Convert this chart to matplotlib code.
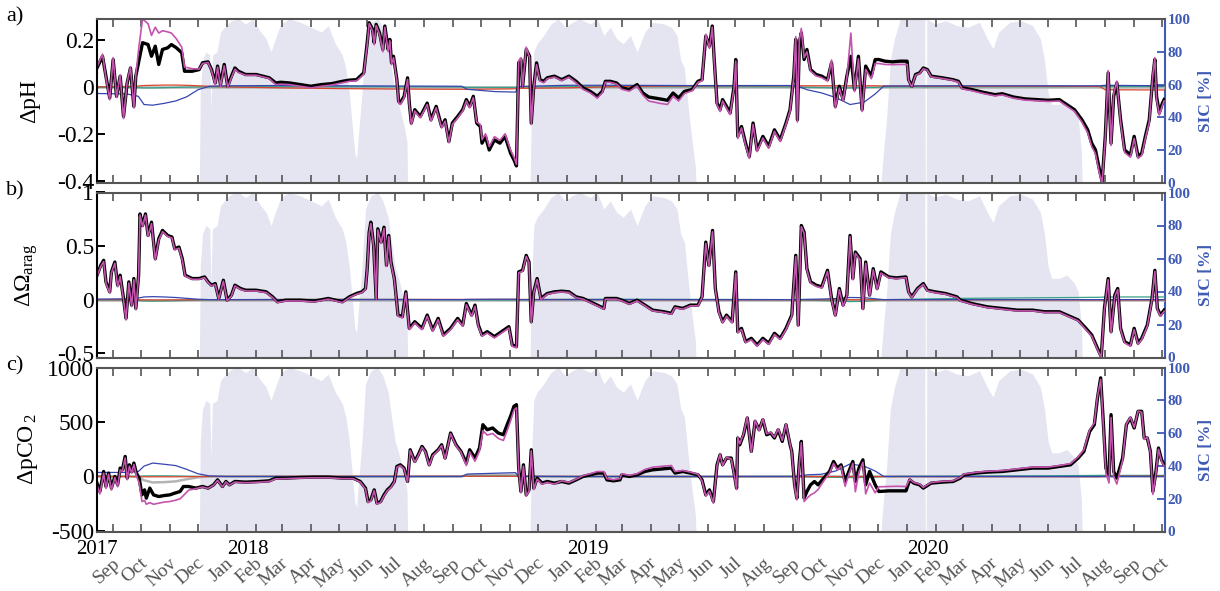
import datetime as dt
import numpy as np
import matplotlib
matplotlib.use("Agg")
import matplotlib.pyplot as plt
import matplotlib.dates as mdates
import matplotlib.transforms as mtransforms

plt.rcParams['font.family'] = ['Liberation Serif', 'DejaVu Serif']
plt.rcParams['mathtext.fontset'] = 'custom'
plt.rcParams['mathtext.rm'] = 'Liberation Serif'
plt.rcParams['mathtext.it'] = 'Liberation Serif:italic'

# time axis: months after 1 Sep 2017 (fractional)
t_ph = [-0.56, -0.37, -0.25, -0.12, 0.00, 0.12, 0.25, 0.37, 0.50, 0.62,
        0.74, 0.81, 0.93, 1.05, 1.24, 1.36, 1.49, 1.61, 1.74, 1.92,
        2.05, 2.23, 2.42, 2.52, 2.79, 3.04, 3.16, 3.35, 3.47, 3.60,
        3.68, 3.78, 3.91, 4.03, 4.16, 4.28, 4.40, 4.65, 5.02, 5.27,
        5.52, 5.77, 5.96, 6.27, 6.64, 7.01, 7.38, 7.75, 8.13, 8.37,
        8.62, 8.75, 8.87, 8.99, 9.06, 9.18, 9.24, 9.31, 9.43, 9.55,
        9.62, 9.74, 9.80, 9.86, 9.93, 10.05, 10.11, 10.17, 10.30, 10.42,
        10.48, 10.55, 10.67, 10.86, 11.10, 11.23, 11.41, 11.60, 11.72, 11.85,
        11.97, 12.16, 12.34, 12.47, 12.59, 12.72, 12.84, 12.97, 13.03, 13.15,
        13.28, 13.46, 13.65, 13.83, 14.02, 14.14, 14.23, 14.31, 14.39, 14.45,
        14.58, 14.70, 14.76, 14.85, 14.95, 15.07, 15.20, 15.32, 15.57, 15.82,
        16.07, 16.32, 16.56, 16.81, 17.06, 17.25, 17.37, 17.56, 17.80, 18.00,
        18.26, 18.53, 18.73, 18.93, 19.33, 19.60, 19.80, 20.00, 20.20, 20.47,
        20.67, 20.81, 20.94, 21.07, 21.17, 21.24, 21.34, 21.45, 21.54, 21.68,
        21.81, 21.95, 22.01, 22.08, 22.21, 22.35, 22.48, 22.61, 22.75, 22.95,
        23.15, 23.35, 23.55, 23.75, 23.89, 24.02, 24.09, 24.15, 24.22, 24.29,
        24.39, 24.49, 24.62, 24.82, 25.02, 25.22, 25.36, 25.49, 25.63, 25.76,
        25.89, 26.03, 26.16, 26.30, 26.43, 26.56, 26.76, 26.90, 27.03, 27.24,
        27.50, 27.77, 28.01, 28.06, 28.17, 28.30, 28.44, 28.57, 28.71, 28.84,
        29.24, 29.64, 29.84, 29.98, 30.31, 30.71, 31.12, 31.38, 31.78, 32.19,
        32.59, 32.99, 33.39, 33.66, 33.93, 34.19, 34.39, 34.53, 34.66, 34.80,
        34.89, 35.00, 35.10, 35.20, 35.29, 35.40, 35.53, 35.67, 35.87, 36.00,
        36.14, 36.27, 36.40, 36.54, 36.67, 36.74, 36.80, 36.90, 37.01, 37.07]

ph_total = [0.081, 0.131, 0.046, -0.047, 0.117, -0.040, 0.046, -0.126, 0.017, 0.081,
            -0.083, 0.046, 0.117, 0.189, 0.181, 0.131, 0.174, 0.096, 0.160, 0.167,
            0.181, 0.167, 0.146, 0.067, 0.067, 0.074, 0.103, 0.107, 0.074, 0.017,
            0.089, 0.010, 0.096, 0.003, 0.046, 0.081, 0.067, 0.053, 0.053, 0.046,
            0.039, 0.017, 0.020, 0.017, 0.010, 0.003, 0.010, 0.014, 0.024, 0.029,
            0.031, 0.046, 0.060, 0.189, 0.274, 0.246, 0.189, 0.267, 0.231, 0.160,
            0.260, 0.160, 0.203, 0.103, 0.131, 0.031, -0.061, -0.069, -0.040, 0.039,
            -0.069, -0.154, -0.097, -0.126, -0.069, -0.140, -0.083, -0.169, -0.140, -0.233,
            -0.154, -0.126, -0.097, -0.054, -0.083, -0.040, -0.154, -0.169, -0.240, -0.211,
            -0.269, -0.226, -0.240, -0.211, -0.283, -0.311, -0.337, 0.103, 0.117, 0.003,
            0.160, 0.131, -0.154, 0.003, 0.103, 0.031, 0.024, 0.039, 0.046, 0.031,
            0.046, 0.024, -0.004, -0.019, -0.040, -0.019, 0.024, 0.024, 0.017, -0.004,
            -0.011, 0.010, -0.026, -0.043, -0.051, -0.057, -0.026, -0.047, -0.019, -0.011,
            0.024, 0.031, 0.217, 0.174, 0.260, 0.117, -0.069, -0.097, -0.054, -0.083,
            -0.111, 0.003, 0.117, -0.211, -0.169, -0.240, -0.297, -0.154, -0.269, -0.211,
            -0.254, -0.183, -0.226, -0.154, -0.097, 0.046, 0.203, -0.140, 0.189, 0.231,
            0.117, 0.160, 0.074, 0.053, 0.046, 0.031, 0.103, -0.083, 0.003, -0.054,
            0.046, 0.131, -0.011, 0.131, -0.097, 0.089, 0.046, 0.117, 0.117, 0.110,
            0.107, 0.110, 0.110, 0.031, 0.003, 0.053, 0.060, 0.081, 0.074, 0.046,
            0.039, 0.031, 0.024, -0.004, -0.011, -0.023, -0.033, -0.029, -0.043, -0.051,
            -0.054, -0.057, -0.054, -0.076, -0.097, -0.140, -0.183, -0.240, -0.269, -0.354,
            -0.404, -0.211, 0.060, -0.240, -0.040, 0.017, -0.140, -0.269, -0.290, -0.211,
            -0.297, -0.283, -0.211, -0.140, 0.046, 0.117, -0.040, -0.111, -0.069, -0.054]

ph_dic = [0.085, 0.140, 0.040, -0.055, 0.125, -0.045, 0.050, -0.135, 0.020, 0.085,
          -0.090, 0.050, 0.180, 0.290, 0.270, 0.220, 0.255, 0.230, 0.240, 0.235,
          0.230, 0.205, 0.170, 0.085, 0.078, 0.076, 0.100, 0.104, 0.070, 0.010,
          0.085, 0.003, 0.090, -0.003, 0.040, 0.076, 0.062, 0.050, 0.050, 0.043,
          0.036, 0.010, 0.012, 0.010, 0.003, -0.004, 0.003, 0.008, 0.018, 0.024,
          0.026, 0.040, 0.055, 0.180, 0.270, 0.240, 0.180, 0.262, 0.225, 0.150,
          0.255, 0.150, 0.198, 0.095, 0.125, 0.025, -0.068, -0.075, -0.046, 0.032,
          -0.075, -0.160, -0.103, -0.132, -0.075, -0.146, -0.089, -0.175, -0.146, -0.238,
          -0.160, -0.132, -0.103, -0.060, -0.089, -0.046, -0.150, -0.160, -0.225, -0.200,
          -0.255, -0.212, -0.228, -0.200, -0.270, -0.300, -0.330, 0.110, 0.125, 0.000,
          0.170, 0.125, -0.160, -0.005, 0.095, 0.025, 0.018, 0.035, 0.042, 0.027,
          0.042, 0.018, -0.010, -0.025, -0.048, -0.025, 0.020, 0.020, 0.012, -0.010,
          -0.018, 0.004, -0.035, -0.060, -0.070, -0.075, -0.040, -0.060, -0.028, -0.016,
          0.020, 0.026, 0.225, 0.165, 0.255, 0.110, -0.075, -0.105, -0.060, -0.090,
          -0.118, -0.004, 0.110, -0.220, -0.175, -0.248, -0.305, -0.160, -0.276, -0.218,
          -0.262, -0.190, -0.233, -0.160, -0.103, 0.040, 0.215, -0.150, 0.200, 0.250,
          0.125, 0.150, 0.068, 0.047, 0.040, 0.025, 0.115, -0.090, -0.005, -0.060,
          0.040, 0.230, -0.020, 0.120, -0.105, 0.075, 0.035, 0.100, 0.100, 0.096,
          0.095, 0.096, 0.096, 0.028, 0.000, 0.050, 0.057, 0.078, 0.071, 0.043,
          0.036, 0.028, 0.020, -0.008, -0.016, -0.028, -0.038, -0.034, -0.048, -0.056,
          -0.059, -0.062, -0.060, -0.082, -0.104, -0.150, -0.195, -0.255, -0.285, -0.370,
          -0.410, -0.220, 0.070, -0.250, -0.030, 0.025, -0.150, -0.280, -0.300, -0.220,
          -0.305, -0.292, -0.220, -0.150, 0.055, 0.125, -0.050, -0.120, -0.078, -0.060]

t_om = [-0.56, -0.43, -0.33, -0.25, -0.12, -0.06, 0.06, 0.16, 0.25, 0.37,
        0.46, 0.56, 0.66, 0.74, 0.81, 0.91, 0.96, 1.05, 1.15, 1.24,
        1.36, 1.49, 1.61, 1.74, 1.92, 2.07, 2.17, 2.32, 2.44, 2.54,
        2.79, 3.04, 3.23, 3.35, 3.47, 3.60, 3.72, 3.88, 4.01, 4.16,
        4.28, 4.47, 4.65, 5.02, 5.40, 5.65, 5.83, 6.14, 6.64, 7.13,
        7.63, 8.13, 8.37, 8.62, 8.81, 8.93, 8.99, 9.06, 9.12, 9.22,
        9.31, 9.37, 9.49, 9.59, 9.68, 9.76, 9.84, 9.96, 10.09, 10.24,
        10.36, 10.48, 10.67, 10.92, 11.10, 11.29, 11.48, 11.66, 11.91, 12.16,
        12.34, 12.47, 12.66, 12.78, 12.90, 13.03, 13.21, 13.46, 13.71, 13.96,
        14.08, 14.23, 14.31, 14.45, 14.58, 14.68, 14.76, 14.85, 14.97, 15.10,
        15.32, 15.57, 15.82, 16.07, 16.32, 16.56, 16.81, 17.06, 17.31, 17.37,
        17.56, 17.80, 18.00, 18.26, 18.53, 18.80, 19.07, 19.47, 19.74, 19.87,
        20.14, 20.41, 20.67, 20.81, 20.94, 21.05, 21.18, 21.28, 21.41, 21.54,
        21.68, 21.88, 22.01, 22.08, 22.21, 22.35, 22.55, 22.75, 22.95, 23.15,
        23.35, 23.55, 23.75, 23.95, 24.09, 24.18, 24.29, 24.39, 24.49, 24.62,
        24.82, 25.02, 25.22, 25.36, 25.49, 25.63, 25.76, 25.89, 26.00, 26.10,
        26.19, 26.36, 26.46, 26.56, 26.70, 26.83, 26.97, 27.10, 27.37, 27.63,
        27.97, 28.06, 28.17, 28.37, 28.57, 28.71, 28.97, 29.37, 29.78, 29.91,
        30.31, 30.85, 31.38, 31.92, 32.45, 32.86, 33.39, 33.79, 34.06, 34.33,
        34.53, 34.73, 34.86, 34.97, 35.10, 35.20, 35.33, 35.43, 35.53, 35.67,
        35.87, 36.00, 36.14, 36.27, 36.47, 36.64, 36.74, 36.83, 36.94, 37.07]

om_total = [0.228, 0.320, 0.367, 0.166, 0.073, 0.259, 0.351, 0.135, 0.228, 0.011,
            -0.175, 0.166, -0.051, 0.197, -0.082, 0.228, 0.800, 0.692, 0.800, 0.599,
            0.723, 0.382, 0.568, 0.646, 0.599, 0.584, 0.475, 0.491, 0.382, 0.228,
            0.197, 0.197, 0.212, 0.166, 0.135, 0.150, 0.011, 0.181, -0.005, 0.042,
            0.135, 0.104, 0.088, 0.088, 0.073, 0.026, -0.020, -0.005, -0.005, -0.014,
            0.011, -0.020, 0.026, 0.057, 0.073, 0.104, 0.289, 0.630, 0.723, 0.506,
            0.011, 0.661, 0.537, 0.676, 0.320, 0.599, 0.351, 0.197, -0.144, -0.159,
            0.073, -0.268, -0.206, -0.268, -0.144, -0.283, -0.175, -0.330, -0.268, -0.175,
            -0.237, -0.036, -0.144, -0.051, -0.237, -0.330, -0.299, -0.345, -0.299, -0.252,
            -0.423, -0.438, 0.259, 0.274, 0.413, 0.351, -0.206, 0.073, 0.197, 0.011,
            0.057, 0.073, 0.079, 0.073, 0.026, 0.011, -0.020, -0.051, -0.082, 0.011,
            0.011, 0.011, -0.005, -0.036, -0.005, -0.051, -0.098, -0.113, -0.128, -0.067,
            -0.082, -0.051, -0.051, 0.026, 0.537, 0.320, 0.646, 0.104, -0.113, -0.206,
            -0.144, -0.206, 0.259, -0.299, -0.268, -0.392, -0.361, -0.423, -0.361, -0.407,
            -0.314, -0.361, -0.268, -0.144, 0.413, -0.237, 0.692, 0.630, 0.289, 0.166,
            0.135, 0.119, 0.274, 0.011, -0.144, 0.104, -0.051, 0.042, 0.599, 0.197,
            0.444, 0.382, -0.082, 0.351, 0.042, 0.289, 0.104, 0.259, 0.212, 0.203,
            0.212, 0.073, 0.026, 0.104, 0.150, 0.088, 0.073, 0.057, 0.026, -0.005,
            -0.036, -0.067, -0.082, -0.098, -0.098, -0.113, -0.113, -0.159, -0.190, -0.268,
            -0.330, -0.454, -0.531, -0.082, 0.197, -0.299, 0.042, 0.104, -0.268, -0.392,
            -0.423, -0.268, -0.407, -0.361, -0.237, 0.011, 0.274, -0.082, -0.144, -0.098]

om_dic = [0.220, 0.310, 0.355, 0.155, 0.060, 0.250, 0.340, 0.120, 0.215, 0.000,
          -0.190, 0.155, -0.065, 0.185, -0.095, 0.215, 0.790, 0.680, 0.790, 0.590,
          0.710, 0.370, 0.555, 0.635, 0.590, 0.575, 0.465, 0.480, 0.370, 0.220,
          0.190, 0.190, 0.205, 0.160, 0.128, 0.142, 0.004, 0.172, -0.012, 0.035,
          0.128, 0.097, 0.081, 0.081, 0.066, 0.019, -0.027, -0.012, -0.012, -0.021,
          0.004, -0.027, 0.019, 0.050, 0.066, 0.097, 0.280, 0.620, 0.712, 0.495,
          0.000, 0.650, 0.525, 0.665, 0.310, 0.588, 0.340, 0.186, -0.155, -0.170,
          0.062, -0.280, -0.218, -0.280, -0.155, -0.295, -0.187, -0.342, -0.280, -0.187,
          -0.249, -0.048, -0.156, -0.063, -0.249, -0.342, -0.311, -0.357, -0.311, -0.264,
          -0.435, -0.450, 0.250, 0.265, 0.404, 0.342, -0.218, 0.062, 0.186, 0.000,
          0.050, 0.066, 0.072, 0.066, 0.019, 0.004, -0.027, -0.058, -0.089, 0.004,
          0.004, 0.004, -0.012, -0.043, -0.012, -0.058, -0.105, -0.120, -0.135, -0.074,
          -0.089, -0.058, -0.058, 0.019, 0.525, 0.310, 0.635, 0.094, -0.124, -0.217,
          -0.155, -0.217, 0.248, -0.310, -0.279, -0.403, -0.372, -0.434, -0.372, -0.418,
          -0.325, -0.372, -0.279, -0.155, 0.402, -0.248, 0.681, 0.619, 0.278, 0.155,
          0.124, 0.108, 0.263, 0.000, -0.155, 0.093, -0.062, 0.031, 0.588, 0.186,
          0.433, 0.371, -0.093, 0.340, 0.031, 0.278, 0.093, 0.248, 0.205, 0.196,
          0.205, 0.066, 0.019, 0.097, 0.143, 0.081, 0.066, 0.050, 0.019, -0.012,
          -0.043, -0.074, -0.089, -0.105, -0.105, -0.120, -0.120, -0.166, -0.197, -0.279,
          -0.341, -0.465, -0.540, -0.093, 0.186, -0.310, 0.031, 0.093, -0.279, -0.403,
          -0.434, -0.279, -0.418, -0.372, -0.248, 0.000, 0.263, -0.093, -0.155, -0.109]

t_co2 = [-0.56, -0.46, -0.33, -0.25, -0.16, -0.06, 0.06, 0.16, 0.25, 0.33,
         0.43, 0.50, 0.58, 0.66, 0.74, 0.83, 0.93, 1.03, 1.12, 1.18,
         1.30, 1.43, 1.61, 1.80, 1.99, 2.17, 2.36, 2.48, 2.67, 2.92,
         3.16, 3.35, 3.54, 3.68, 3.85, 3.97, 4.09, 4.28, 4.65, 5.15,
         5.52, 5.77, 6.14, 6.64, 7.13, 7.63, 8.13, 8.50, 8.75, 8.93,
         9.02, 9.12, 9.24, 9.34, 9.47, 9.59, 9.71, 9.84, 9.96, 10.05,
         10.17, 10.30, 10.42, 10.51, 10.67, 10.79, 10.92, 11.04, 11.17, 11.29,
         11.48, 11.60, 11.72, 11.91, 12.10, 12.28, 12.47, 12.59, 12.78, 12.94,
         13.06, 13.21, 13.40, 13.59, 13.77, 13.90, 14.02, 14.14, 14.23, 14.31,
         14.39, 14.48, 14.58, 14.68, 14.76, 14.85, 14.97, 15.14, 15.32, 15.57,
         15.82, 16.07, 16.32, 16.56, 16.81, 17.06, 17.31, 17.43, 17.68, 17.93,
         18.00, 18.26, 18.53, 18.80, 19.07, 19.47, 19.74, 19.87, 20.14, 20.41,
         20.67, 20.81, 20.94, 21.07, 21.21, 21.34, 21.45, 21.54, 21.68, 21.85,
         21.95, 22.04, 22.08, 22.15, 22.28, 22.41, 22.55, 22.68, 22.82, 22.95,
         23.08, 23.22, 23.35, 23.48, 23.62, 23.75, 23.89, 23.95, 24.05, 24.13,
         24.22, 24.29, 24.39, 24.49, 24.62, 24.76, 24.89, 25.09, 25.29, 25.43,
         25.56, 25.69, 25.83, 25.96, 26.10, 26.19, 26.32, 26.46, 26.56, 26.70,
         26.90, 27.03, 27.37, 27.63, 27.97, 28.10, 28.24, 28.44, 28.57, 28.84,
         29.24, 29.64, 29.91, 30.04, 30.45, 30.85, 31.38, 31.92, 32.45, 32.99,
         33.39, 33.79, 34.06, 34.26, 34.46, 34.62, 34.73, 34.84, 34.93, 35.02,
         35.13, 35.20, 35.29, 35.40, 35.60, 35.73, 35.87, 36.00, 36.14, 36.27,
         36.36, 36.47, 36.58, 36.67, 36.78, 36.87, 36.98, 37.07]

co2_total = [-61, -138, 46, -92, 31, -107, 0, -77, 77, 61,
             184, -15, 107, 46, 123, 31, -15, -169, -123, -199,
             -107, -169, -184, -175, -169, -153, -138, -92, -92, -107,
             -92, -107, -77, -31, -92, -46, -77, -46, -52, -46,
             -40, -15, -15, -9, -6, -6, -15, -15, -46, -107,
             -230, -215, -123, -245, -230, -169, -123, -92, -46, 92,
             107, 77, -46, 245, 138, 199, 276, 230, 107, 199,
             245, 291, 169, 399, 291, 230, 123, 245, 169, 261,
             475, 429, 445, 399, 383, 475, 552, 644, 659, 77,
             -138, 107, -169, -123, 245, -107, -15, -61, -46, -61,
             -46, -61, -31, 0, 15, 31, 31, -31, -40, -31,
             15, 0, 15, 46, 61, 71, 77, 31, 46, 31,
             15, -31, -169, -123, -230, 107, 199, 107, 169, 169,
             31, -107, 353, 291, 383, 537, 230, 506, 429, 521,
             383, 399, 353, 429, 322, 475, 291, 230, -77, -199,
             138, 322, -199, -138, -77, -46, -77, -15, 46, 138,
             77, 107, -46, 46, 138, -46, 77, 153, -77, 46,
             -77, -138, -132, -132, -132, -31, -61, -77, -107, -61,
             -52, -46, -15, 15, 31, 40, 46, 61, 77, 77,
             92, 107, 169, 230, 414, 475, 721, 905, 506, 77,
             15, 567, 46, -15, 169, 475, 537, 445, 598, 598,
             353, 353, 230, -138, 46, 261, 153, 107]

co2_dic = [-80, -160, 30, -110, 20, -125, -10, -95, 60, 50,
           170, -30, 95, 30, 110, 10, -60, -230, -220, -255,
           -240, -255, -245, -235, -230, -220, -205, -175, -125, -112,
           -97, -110, -80, -36, -96, -50, -80, -52, -58, -52,
           -46, -22, -20, -15, -12, -12, -20, -20, -52, -115,
           -240, -225, -130, -255, -238, -178, -130, -100, -52, 85,
           100, 70, -52, 238, 130, 190, 268, 222, 100, 190,
           238, 284, 160, 392, 283, 222, 100, 225, 140, 235,
           420, 380, 395, 350, 330, 420, 510, 610, 630, 60,
           -150, 95, -180, -135, 235, -120, -25, -70, -55, -70,
           -40, -55, -25, 8, 25, 45, 45, -20, -30, -20,
           25, 10, 25, 65, 85, 95, 100, 45, 55, 40,
           20, -40, -180, -135, -245, 100, 205, 100, 175, 160,
           20, -120, 360, 300, 390, 545, 222, 515, 420, 530,
           392, 405, 360, 438, 330, 482, 298, 220, -90, -215,
           120, 310, -230, -200, -170, -150, -120, -40, 30, 120,
           60, 95, -90, 20, 120, -140, 40, 130, -160, -60,
           -150, -95, -92, -90, -92, -25, -55, -70, -100, -55,
           -45, -40, -8, 22, 38, 48, 54, 70, 86, 86,
           100, 118, 180, 245, 430, 490, 735, 890, 480, 30,
           -60, 540, 0, -70, 150, 480, 545, 450, 600, 590,
           340, 360, 220, -165, 30, 250, 140, 95]

# smoother contributions, on a coarser time grid
t_small = [-0.56, 0.5, 0.9, 1.1, 1.4, 1.8, 2.2, 2.6, 3.0, 3.4,
           4.0, 6.0, 8.0, 10.0, 12.3, 12.5, 13.5, 14.2, 14.3, 16.0,
           18.0, 20.0, 22.0, 24.1, 24.5, 25.0, 25.5, 26.0, 26.5, 26.9,
           27.2, 30.0, 33.0, 34.8, 35.0, 37.07]

ph_temp = [-0.028, -0.030, -0.040, -0.075, -0.078, -0.070, -0.060, -0.042, -0.012, 0.003,
           0.005, 0.006, 0.005, 0.004, 0.003, -0.010, -0.020, -0.022, 0.002, 0.007,
           0.007, 0.006, 0.006, 0.006, -0.012, -0.025, -0.045, -0.075, -0.065, -0.030,
           0.004, 0.005, 0.005, 0.005, 0.007, 0.005]
ph_sal = [0.000, 0.002, 0.004, 0.006, 0.007, 0.008, 0.008, 0.007, 0.005, 0.003,
          0.000, -0.004, -0.007, -0.009, -0.010, -0.010, -0.009, -0.008, -0.006, -0.004,
          0.002, 0.004, 0.005, 0.005, 0.005, 0.005, 0.005, 0.005, 0.005, 0.005,
          0.004, 0.003, 0.003, 0.002, -0.012, -0.013]
ph_ta = [-0.002, -0.002, -0.003, -0.004, -0.004, -0.003, -0.002, -0.001, 0.000, 0.000,
         0.001, 0.001, 0.001, 0.001, 0.000, -0.002, -0.002, -0.002, 0.000, 0.001,
         0.001, 0.001, 0.001, 0.000, -0.002, -0.003, -0.004, -0.004, -0.003, -0.002,
         0.000, 0.001, 0.001, 0.002, 0.002, 0.002]
ph_fw = [0.000, 0.000, 0.000, 0.000, 0.000, 0.000, 0.000, 0.000, 0.000, 0.000,
         0.000, 0.000, 0.000, 0.000, 0.000, 0.000, 0.000, 0.000, 0.000, 0.000,
         0.000, 0.000, 0.000, 0.000, 0.000, 0.000, 0.000, 0.000, 0.000, 0.000,
         0.000, 0.000, 0.000, 0.000, 0.000, 0.000]

om_temp = [0.005, 0.008, 0.015, 0.025, 0.028, 0.025, 0.020, 0.012, 0.004, 0.000,
           0.000, 0.000, 0.000, 0.000, 0.000, 0.002, 0.004, 0.004, 0.000, 0.000,
           0.000, 0.000, 0.000, 0.000, 0.003, 0.005, 0.010, 0.020, 0.018, 0.008,
           0.000, 0.000, 0.000, 0.000, 0.000, 0.000]
om_sal = [0.000, 0.000, -0.002, -0.003, -0.003, -0.003, -0.002, -0.002, -0.001, 0.000,
          0.000, 0.001, 0.002, 0.002, 0.002, 0.002, 0.002, 0.002, 0.002, 0.001,
          0.000, -0.001, -0.001, -0.001, -0.001, -0.001, -0.001, -0.001, -0.001, -0.001,
          -0.001, -0.001, -0.002, -0.002, -0.003, -0.003]
om_ta = [-0.003, -0.005, -0.008, -0.012, -0.014, -0.013, -0.010, -0.007, -0.004, -0.002,
         0.000, 0.002, 0.003, 0.002, 0.000, -0.003, -0.004, -0.004, 0.000, 0.003,
         0.004, 0.003, 0.002, 0.000, -0.005, -0.008, -0.012, -0.018, -0.016, -0.008,
         0.000, 0.012, 0.018, 0.022, 0.025, 0.025]
om_fw = [0.000, 0.000, 0.000, 0.000, 0.000, 0.000, 0.000, 0.000, 0.000, 0.000,
         0.000, 0.000, 0.000, 0.000, 0.000, 0.000, 0.000, 0.000, 0.000, 0.000,
         0.000, 0.000, 0.000, 0.000, 0.000, 0.000, 0.000, 0.000, 0.000, 0.000,
         0.000, 0.000, 0.000, 0.000, 0.000, 0.000]

co2_temp = [37, 37, 45, 95, 123, 112, 100, 65, 25, 5,
            0, 0, 0, 0, 0, 22, 30, 35, 2, 0,
            0, 0, 0, 0, 15, 20, 50, 115, 95, 50,
            0, 0, 0, 0, 0, 0]
co2_sal = [0, 0, -2, -3, -3, -3, -3, -2, -1, 0,
           0, 1, 2, 2, 2, 2, 2, 2, 1, 0,
           0, -1, -1, -1, -1, -1, -1, -1, -1, -1,
           -1, -2, -2, -2, 3, 3]
co2_ta = [0, 0, 2, 5, 6, 6, 5, 3, 1, 0,
          0, -1, -2, -2, 0, 3, 4, 4, 0, -2,
          -2, -2, -1, 0, -3, -5, -8, -10, -9, -5,
          0, 3, 6, 10, 10, 10]
co2_fw = [0, 0, -5, -35, -55, -52, -45, -25, -8, 0,
          0, 0, 0, 0, 0, 12, 15, 15, 0, 0,
          0, 0, 0, 0, 0, 0, 0, 0, 0, 0,
          0, 0, 0, 0, 0, 0]

# sea ice concentration [%]
t_sic = [-0.56, 3.05, 3.08, 3.16, 3.28, 3.41, 3.45, 3.50, 3.66, 3.78,
         3.97, 4.16, 4.40, 4.65, 4.90, 5.15, 5.40, 5.59, 5.71, 5.96,
         6.27, 6.64, 7.01, 7.38, 7.63, 7.88, 8.13, 8.25, 8.37, 8.50,
         8.56, 8.62, 8.69, 8.81, 8.93, 9.12, 9.37, 9.55, 9.74, 9.86,
         9.99, 10.11, 10.30, 10.40, 10.42, 14.72, 14.76, 14.85, 14.97, 15.20,
         15.45, 15.70, 15.95, 16.19, 16.44, 16.81, 17.06, 17.31, 17.56, 17.80,
         18.05, 18.30, 18.53, 18.80, 19.07, 19.47, 19.74, 19.94, 20.07, 20.20,
         20.34, 20.47, 20.58, 20.60, 27.10, 27.17, 27.30, 27.43, 27.57, 27.77,
         28.10, 28.44, 28.62, 28.64, 28.67, 28.69, 28.97, 29.37, 29.78, 30.18,
         30.58, 30.85, 31.05, 31.25, 31.65, 32.05, 32.45, 32.72, 32.86, 32.99,
         33.12, 33.39, 33.66, 33.93, 34.06, 34.17, 34.20, 37.07]
sic = [0, 0, 55, 75, 80, 78, 45, 78, 80, 92,
       96, 99, 100, 97, 100, 93, 88, 80, 86, 97,
       100, 98, 95, 92, 96, 85, 78, 70, 55, 30,
       18, 15, 30, 55, 90, 98, 100, 95, 85, 70,
       55, 48, 35, 25, 0, 0, 40, 80, 85, 90,
       97, 100, 95, 98, 100, 97, 100, 90, 95, 88,
       85, 90, 80, 92, 98, 97, 95, 90, 75, 70,
       45, 25, 10, 0, 0, 15, 40, 75, 88, 100,
       100, 100, 100, 0, 0, 100, 97, 99, 96, 95,
       98, 88, 82, 92, 98, 99, 96, 88, 75, 55,
       48, 48, 50, 45, 40, 20, 0, 0]

month_names = ['Jan', 'Feb', 'Mar', 'Apr', 'May', 'Jun',
               'Jul', 'Aug', 'Sep', 'Oct', 'Nov', 'Dec']
years = ['2017', '2018', '2019', '2020']


def to_dates(t):
    """months after 1 Sep 2017 -> matplotlib date numbers"""
    out = []
    for v in np.atleast_1d(t):
        k = int(np.floor(v))
        start = dt.datetime(2017 + (8 + k) // 12, (8 + k) % 12 + 1, 1)
        end = dt.datetime(2017 + (9 + k) // 12, (9 + k) % 12 + 1, 1)
        out.append(start + (end - start) * float(v - k))
    return mdates.date2num(out)


BLUE_AX = '#3f5bb5'
C_TOTAL = 'k'
C_DIC = '#c453ae'
C_TEMP = '#3646b0'
C_SAL = '#d8452c'
C_TA = '#37a088'
C_FW = '#b4b4b4'
C_ICE = '#e5e5f1'

fig = plt.figure(figsize=(12.2, 5.91), dpi=100)
fig.patch.set_facecolor('white')

L, W = 97 / 1220, 1068 / 1220
boxes = [(19, 183), (192.5, 357.5), (367.5, 531.5)]

panels = [
    dict(t=t_ph, total=ph_total, dic=ph_dic, temp=ph_temp, sal=ph_sal, ta=ph_ta, fw=ph_fw,
         ylim=(-0.41, 0.29), yticks=[-0.4, -0.2, 0, 0.2], ylabels=['-0.4', '-0.2', '0', '0.2'],
         label='ΔpH', tag='a)'),
    dict(t=t_om, total=om_total, dic=om_dic, temp=om_temp, sal=om_sal, ta=om_ta, fw=om_fw,
         ylim=(-0.54, 1.0), yticks=[-0.5, 0, 0.5, 1], ylabels=['-0.5', '0', '0.5', '1'],
         label=r'ΔΩ$_{\mathrm{arag}}$', tag='b)'),
    dict(t=t_co2, total=co2_total, dic=co2_dic, temp=co2_temp, sal=co2_sal, ta=co2_ta, fw=co2_fw,
         ylim=(-505, 1000), yticks=[-500, 0, 500, 1000], ylabels=['-500', '0', '500', '1000'],
         label=r'ΔpCO$_{\,2}$', tag='c)'),
]

xmin, xmax = to_dates([-0.56, 37.1])
month_ticks = to_dates(np.arange(0, 38))

axes = []
for (top, bot), p in zip(boxes, panels):
    ax = fig.add_axes([L, 1 - bot / 591, W, (bot - top) / 591])
    sx = ax.twinx()
    ax.set_zorder(sx.get_zorder() + 1)
    ax.patch.set_visible(False)

    # sea ice on the right axis, behind everything
    sx.fill_between(to_dates(t_sic), 0, sic, color=C_ICE, lw=0)
    sx.set_ylim(0, 100)
    sx.set_yticks([0, 20, 40, 60, 80, 100])
    sx.tick_params(axis='y', direction='in', length=6, width=1.3, colors=BLUE_AX,
                   labelsize=11, pad=2)
    for lbl in sx.get_yticklabels():
        lbl.set_fontweight('bold')
    sx.set_ylabel('SIC [%]', color=BLUE_AX, fontweight='bold', fontsize=12.5)
    sx.yaxis.set_label_coords(1.031, 0.5)
    for s in ['left', 'top', 'bottom']:
        sx.spines[s].set_visible(False)
    sx.spines['right'].set_color(BLUE_AX)
    sx.spines['right'].set_linewidth(1.5)

    ts = to_dates(t_small)
    ax.plot(ts, p['fw'], color=C_FW, lw=1.8)
    ax.plot(ts, p['ta'], color=C_TA, lw=0.9)
    ax.plot(ts, p['sal'], color=C_SAL, lw=0.9)
    ax.plot(ts, p['temp'], color=C_TEMP, lw=0.9)
    td = to_dates(p['t'])
    ax.plot(td, p['total'], color=C_TOTAL, lw=2.4)
    ax.plot(td, p['dic'], color=C_DIC, lw=1.2)

    ax.set_xlim(xmin, xmax)
    ax.set_ylim(*p['ylim'])
    ax.set_yticks(p['yticks'])
    ax.set_yticklabels(p['ylabels'])
    ax.set_xticks(month_ticks)
    ax.tick_params(axis='x', direction='in', length=6, width=1.2, color='#555555',
                   top=True, bottom=True, labelbottom=False)
    ax.tick_params(axis='y', direction='in', length=6, width=1.4, color='k',
                   labelsize=17, pad=2, right=False)
    ax.spines['right'].set_visible(False)
    ax.spines['left'].set_linewidth(1.5)
    for s in ['top', 'bottom']:
        ax.spines[s].set_color('#555555')
        ax.spines[s].set_linewidth(1.5)

    ax.set_ylabel(p['label'], fontsize=17)
    ax.yaxis.set_label_coords(-0.053, 0.5)
    fig.text(6 / 1220, 1 - (top - 2) / 591, p['tag'], fontsize=16, ha='left', va='center')
    axes.append(ax)

# month and year labels under the bottom panel
ax = axes[-1]
base = mtransforms.blended_transform_factory(ax.transData, ax.transAxes)
mon_tr = base + mtransforms.ScaledTranslation(10 / 100, -23 / 100, fig.dpi_scale_trans)
yr_tr = base + mtransforms.ScaledTranslation(0, -9 / 100, fig.dpi_scale_trans)
for k, x in enumerate(month_ticks):
    ax.text(x, 0, month_names[(8 + k) % 12], transform=mon_tr, rotation=42,
            ha='right', va='top', fontsize=14, color='#555555')
ax.text(xmin, 0, years[0], transform=yr_tr, ha='center', va='top', fontsize=15)
for k, yr in zip([4, 16, 28], years[1:]):
    ax.text(month_ticks[k], 0, yr, transform=yr_tr, ha='left', va='top', fontsize=15)

fig.savefig('out.png', dpi=100)
